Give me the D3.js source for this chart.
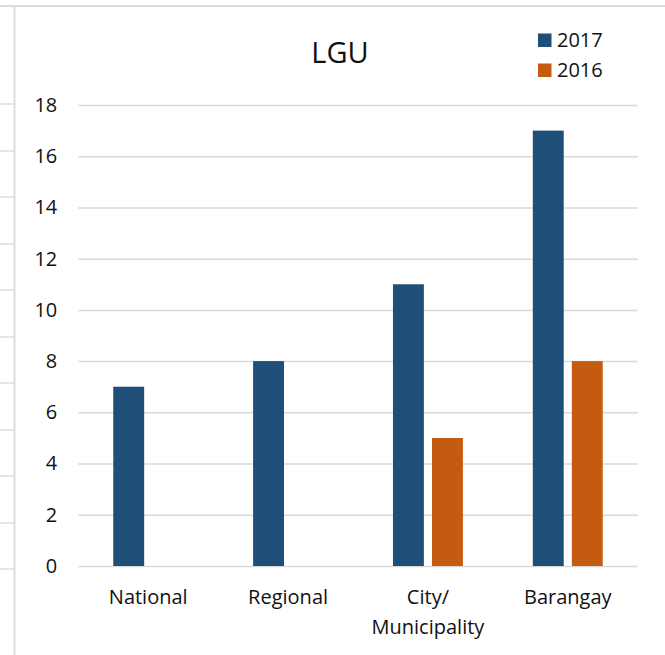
<!DOCTYPE html>
<html>
<head>
<meta charset="utf-8">
<script src="https://cdn.jsdelivr.net/npm/d3@7"></script>
<style>
  html, body { margin: 0; padding: 0; background: #fff; }
  svg { display: block; font-family: "Open Sans", sans-serif; }
</style>
</head>
<body>
<svg id="chart" width="665" height="655"></svg>
<script>
const categories = ["National", "Regional", "City/\nMunicipality", "Barangay"];
const seriesNames = ["2017", "2016"];
const values2017 = [7, 8, 11, 17];
const values2016 = [0, 0, 5, 8];
const yTicks = [0, 2, 4, 6, 8, 10, 12, 14, 16, 18];
const titleText = "LGU";
const colors = { "2017": "#1F4E79", "2016": "#C55A11" };
const sheetRows = [104, 151, 197, 244, 290, 337, 383, 430, 476, 523, 569];

const svg = d3.select("#chart");

// spreadsheet-like background lines
svg.append("line").attr("x1", 0).attr("x2", 665).attr("y1", 6).attr("y2", 6)
  .attr("stroke", "#dcdcdc").attr("stroke-width", 2);
svg.append("line").attr("x1", 14.5).attr("x2", 14.5).attr("y1", 6).attr("y2", 655)
  .attr("stroke", "#dcdcdc").attr("stroke-width", 2);
svg.selectAll("line.row").data(sheetRows).enter().append("line")
  .attr("class", "row")
  .attr("x1", 0).attr("x2", 14).attr("y1", d => d).attr("y2", d => d)
  .attr("stroke", "#dcdcdc").attr("stroke-width", 1.5);

const plotLeft = 78.3, plotRight = 637.7, plotTop = 105, plotBottom = 566;

const x0 = d3.scaleBand().domain(categories).range([plotLeft, plotRight]).padding(0);
const bw = x0.bandwidth();
const x1 = d3.scaleBand().domain(seriesNames).range([bw * 0.25, bw * 0.75]).paddingInner(0.208);
const y = d3.scaleLinear().domain([0, 18]).range([plotBottom, plotTop]);

// gridlines via axis
const yAxis = d3.axisLeft(y).tickValues(yTicks).tickSize(-(plotRight - plotLeft)).tickPadding(21);
const gy = svg.append("g").attr("transform", `translate(${plotLeft},0)`).call(yAxis);
gy.select(".domain").remove();
gy.selectAll(".tick line").attr("stroke", "#d9d9d9").attr("stroke-width", 1.5);
gy.selectAll(".tick text").attr("fill", "#111").attr("font-size", 20)
  .attr("font-family", "Open Sans, sans-serif");

// bars
const data = categories.map((c, i) => ({ cat: c, vals: [
  { s: "2017", v: values2017[i] },
  { s: "2016", v: values2016[i] }
]}));

const groups = svg.append("g").selectAll("g").data(data).enter().append("g")
  .attr("transform", d => `translate(${x0(d.cat)},0)`);
groups.selectAll("rect").data(d => d.vals.filter(e => e.v > 0)).enter().append("rect")
  .attr("x", d => x1(d.s))
  .attr("width", x1.bandwidth())
  .attr("y", d => y(d.v))
  .attr("height", d => y(0) - y(d.v))
  .attr("fill", d => colors[d.s]);

// x axis labels
const xAxis = d3.axisBottom(x0).tickSize(0).tickFormat("");
const gx = svg.append("g").attr("transform", `translate(0,${plotBottom})`).call(xAxis);
gx.select(".domain").remove();
gx.selectAll(".tick").each(function(d) {
  const lines = d.split("\n");
  const t = d3.select(this).append("text")
    .attr("fill", "#111").attr("font-size", 20).attr("text-anchor", "middle")
    .attr("font-family", "Open Sans, sans-serif");
  lines.forEach((ln, i) => {
    t.append("tspan").attr("x", 0).attr("y", 38 + i * 30).text(ln);
  });
});

// title
svg.append("text").attr("x", 340).attr("y", 63).attr("text-anchor", "middle")
  .attr("font-size", 29).attr("fill", "#111").text(titleText);

// legend
const legend = svg.append("g");
seriesNames.forEach((s, i) => {
  const ly = 33.5 + i * 30;
  legend.append("rect").attr("x", 538).attr("y", ly).attr("width", 13.5).attr("height", 13.5)
    .attr("fill", colors[s]);
  legend.append("text").attr("x", 557).attr("y", ly + 13.5).attr("font-size", 20)
    .attr("fill", "#111").text(s);
});
</script>
</body>
</html>
